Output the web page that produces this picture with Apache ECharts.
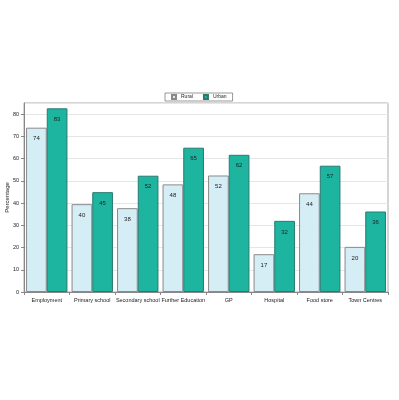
<!DOCTYPE html>
<html>
<head>
<meta charset="utf-8">
<script src="https://cdn.jsdelivr.net/npm/echarts@6/dist/echarts.min.js"></script>
<style>
  html, body { margin: 0; padding: 0; background: #fff; }
  #chart { width: 399px; height: 400px; }
</style>
</head>
<body>
<div id="chart"></div>
<script>
// categories and values
const categories = ['Employment', 'Primary school', 'Secondary school', 'Further Education', 'GP', 'Hospital', 'Food store', 'Town Centres'];
const rural = [73.9, 39.5, 37.7, 48.4, 52.4, 17.0, 44.4, 20.3];
const urban = [82.6, 44.9, 52.3, 64.9, 61.7, 32.0, 56.8, 36.2];

const chart = echarts.init(document.getElementById('chart'));

const labelStyle = {
    show: true,
    position: 'insideTop',
    distance: 8,
    fontSize: 6,
    color: '#222',
    fontFamily: 'Liberation Sans',
    formatter: p => Math.round(p.value)
};

chart.setOption({
    animation: false,
    textStyle: { fontFamily: 'Liberation Sans' },
    grid: {
        left: 24, right: 11, top: 103, bottom: 108,
        outerBoundsMode: 'none', containLabel: false,
        show: true, borderColor: '#aaa', borderWidth: 1
    },
    legend: {
        left: 165, top: 93,
        itemWidth: 4, itemHeight: 4, itemGap: 10,
        padding: [1, 6],
        borderColor: '#555', borderWidth: 0.6,
        textStyle: { fontSize: 5, color: '#222' },
        data: [{ name: 'Rural', icon: 'rect' }, { name: 'Urban', icon: 'rect' }]
    },
    xAxis: {
        type: 'category',
        data: categories,
        axisLine: { lineStyle: { color: '#888' } },
        axisTick: { show: true, length: 3, lineStyle: { color: '#888' } },
        axisLabel: { fontSize: 5.5, color: '#222', margin: 5, interval: 0 }
    },
    yAxis: {
        type: 'value',
        min: 0, max: 85, interval: 10,
        name: 'Percentage',
        nameLocation: 'middle',
        nameGap: 14,
        nameMoveOverlap: false,
        nameTextStyle: { fontSize: 6, color: '#222' },
        axisLine: { show: true, lineStyle: { color: '#888' } },
        axisTick: { show: true, length: 3, lineStyle: { color: '#888' } },
        axisLabel: { fontSize: 5.5, color: '#222', margin: 5, showMaxLabel: false },
        splitLine: { lineStyle: { color: '#e6e6e6' } }
    },
    series: [
        {
            name: 'Rural', type: 'bar', data: rural,
            barGap: '0%', barCategoryGap: '9%',
            itemStyle: { color: '#d5edf4', borderColor: '#8a8a8a', borderWidth: 1 },
            label: labelStyle
        },
        {
            name: 'Urban', type: 'bar', data: urban,
            itemStyle: { color: '#1db5a0', borderColor: '#2a7a70', borderWidth: 1 },
            label: labelStyle
        }
    ]
});
</script>
</body>
</html>
